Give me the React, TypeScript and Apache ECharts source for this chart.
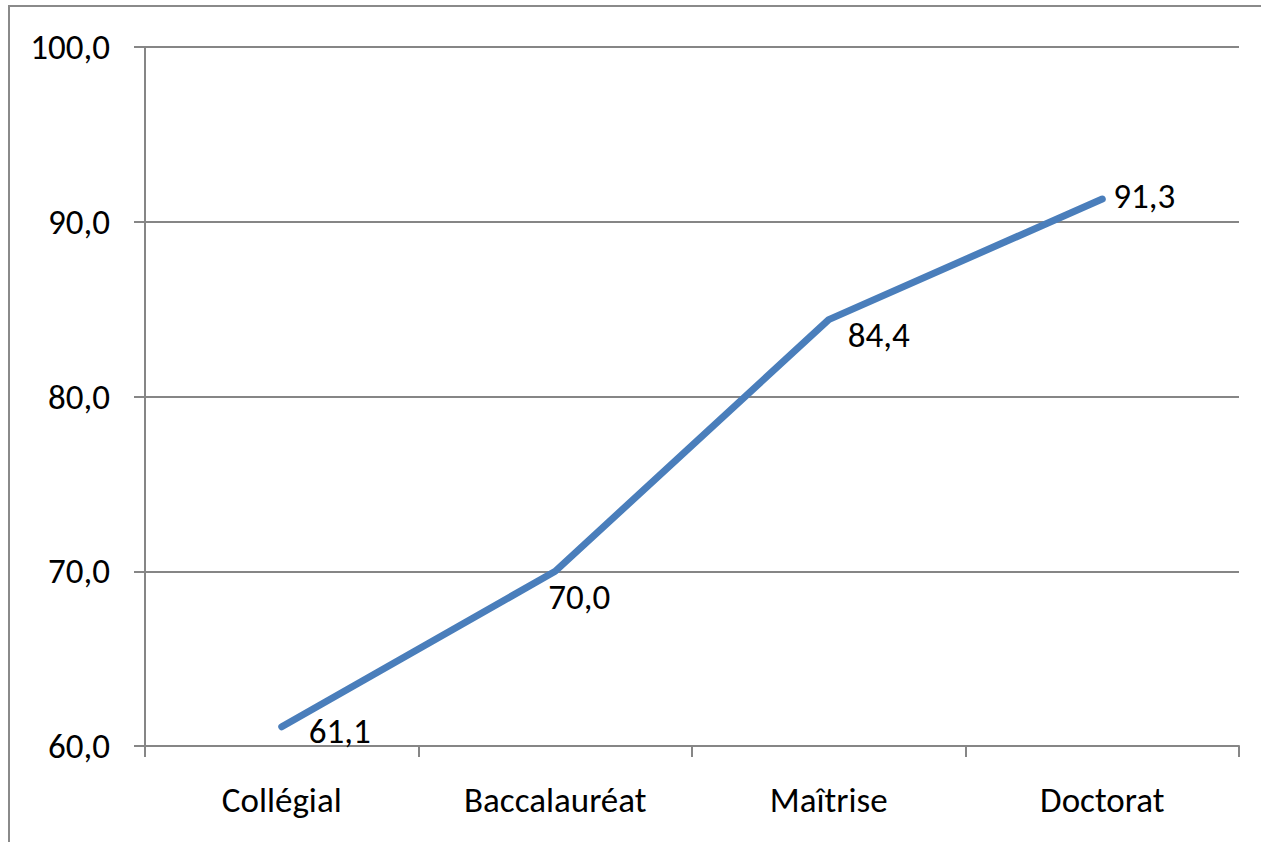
import React, { useEffect, useRef } from "react";
import * as echarts from "echarts";

const categories = ["Collégial", "Baccalauréat", "Maîtrise", "Doctorat"];
const values = [61.1, 70.0, 84.4, 91.3];
const labelOffsets: [number, number][] = [
  [22, 4],
  [-12, 26],
  [14, 15],
  [6, -3],
];
const FONT = "Carlito, Calibri, 'Noto Sans', sans-serif";
const FS = 35;

const fmt = (v: number) => v.toFixed(1).replace(".", ",");

export default function App() {
  const ref = useRef<HTMLDivElement>(null);
  useEffect(() => {
    if (!ref.current) return;
    const chart = echarts.init(ref.current, undefined, { renderer: "svg" });
    chart.setOption({
      animation: false,
      backgroundColor: "#ffffff",
      grid: { left: 145, right: 22, top: 47, bottom: 96 },
      graphic: [
        {
          type: "rect",
          shape: { x: 9, y: 6, width: 1300, height: 900 },
          style: { fill: "none", stroke: "#8a8a8a", lineWidth: 2 },
          silent: true,
        },
      ],
      xAxis: {
        type: "category",
        data: categories,
        boundaryGap: true,
        axisLine: { lineStyle: { color: "#868686", width: 2 } },
        axisTick: { show: true, length: 11, alignWithLabel: false, lineStyle: { color: "#868686", width: 2 } },
        axisLabel: { color: "#000", fontSize: FS, fontFamily: FONT, margin: 36 },
      },
      yAxis: {
        type: "value",
        min: 60,
        max: 100,
        interval: 10,
        axisLine: { show: true, lineStyle: { color: "#868686", width: 2 } },
        axisTick: { show: true, length: 11, lineStyle: { color: "#868686", width: 2 } },
        splitLine: { show: true, lineStyle: { color: "#868686", width: 2 } },
        axisLabel: { color: "#000", fontSize: FS, fontFamily: FONT, margin: 35, formatter: (v: number) => fmt(v) },
      },
      series: [
        {
          type: "line",
          data: values.map((v, i) => ({
            value: v,
            label: { offset: labelOffsets[i] },
          })),
          showSymbol: true,
          symbol: "circle",
          symbolSize: 0,
          itemStyle: { color: "#4a7ebb" },
          lineStyle: { color: "#4a7ebb", width: 7, cap: "round", join: "round" },
          label: {
            show: true,
            position: "right",
            distance: 5,
            color: "#000",
            fontSize: FS,
            fontFamily: FONT,
            formatter: (p: any) => fmt(p.value),
          },
        },
      ],
    });
    return () => chart.dispose();
  }, []);
  return (
    <div
      ref={ref}
      style={{ position: "absolute", left: 0, top: 0, width: 1261, height: 842 }}
    />
  );
}
